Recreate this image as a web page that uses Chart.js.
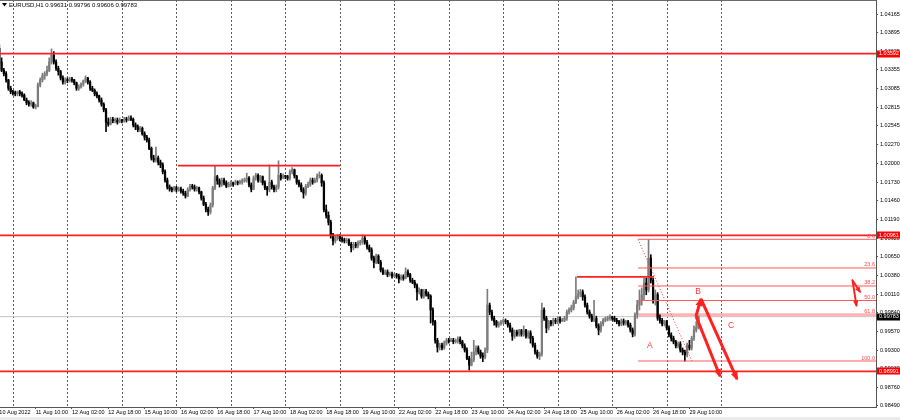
<!DOCTYPE html>
<html><head><meta charset="utf-8">
<script src="https://cdn.jsdelivr.net/npm/chart.js@4.4.0/dist/chart.umd.min.js"></script>
<style>html,body{margin:0;padding:0;background:#fff;overflow:hidden}canvas{display:block}</style>
</head><body>
<canvas id="c" width="900" height="420"></canvas>
<script>
const symbolTitle = 'EURUSD,H1 0.99631 0.99796 0.99606 0.99783';

const opens = [
1.0367,1.0347,1.0335,1.0330,1.0321,1.0309,1.0304,1.0302,1.0301,1.0304,
1.0301,1.0299,1.0292,1.0288,1.0286,1.0288,1.0282,1.0283,1.0314,1.0321,
1.0327,1.0330,1.0335,1.0347,1.0357,1.0347,1.0338,1.0333,1.0324,1.0318,
1.0321,1.0320,1.0322,1.0321,1.0317,1.0309,1.0311,1.0315,1.0320,1.0324,
1.0318,1.0309,1.0306,1.0301,1.0298,1.0292,1.0286,1.0278,1.0260,1.0257,
1.0264,1.0262,1.0263,1.0260,1.0263,1.0262,1.0264,1.0263,1.0266,1.0264,
1.0256,1.0253,1.0249,1.0251,1.0243,1.0238,1.0234,1.0222,1.0208,1.0205,
1.0208,1.0202,1.0198,1.0188,1.0176,1.0166,1.0163,1.0162,1.0165,1.0162,
1.0163,1.0160,1.0157,1.0153,1.0162,1.0167,1.0166,1.0163,1.0165,1.0159,
1.0150,1.0141,1.0134,1.0130,1.0140,1.0165,1.0181,1.0175,1.0170,1.0176,
1.0172,1.0167,1.0170,1.0172,1.0170,1.0173,1.0172,1.0173,1.0175,1.0176,
1.0179,1.0169,1.0163,1.0179,1.0183,1.0176,1.0181,1.0172,1.0165,1.0162,
1.0173,1.0166,1.0162,1.0166,1.0183,1.0179,1.0182,1.0181,1.0179,1.0188,
1.0191,1.0182,1.0173,1.0169,1.0162,1.0157,1.0167,1.0170,1.0176,1.0173,
1.0176,1.0182,1.0183,1.0172,1.0133,1.0125,1.0115,1.0097,1.0088,1.0092,
1.0094,1.0091,1.0089,1.0088,1.0089,1.0083,1.0078,1.0083,1.0081,1.0085,
1.0086,1.0092,1.0086,1.0079,1.0075,1.0063,1.0057,1.0066,1.0057,1.0046,
1.0041,1.0043,1.0039,1.0040,1.0037,1.0039,1.0037,1.0033,1.0036,1.0034,
1.0043,1.0039,1.0031,1.0028,1.0024,1.0014,1.0017,1.0008,1.0015,1.0011,
1.0008,0.9988,0.9971,0.9944,0.9934,0.9937,0.9933,0.9940,0.9944,0.9943,
0.9944,0.9942,0.9943,0.9946,0.9942,0.9936,0.9930,0.9918,0.9908,0.9916,
0.9927,0.9933,0.9927,0.9921,0.9920,0.9930,0.9995,0.9985,0.9976,0.9971,
0.9966,0.9968,0.9971,0.9972,0.9971,0.9966,0.9959,0.9950,0.9956,0.9953,
0.9958,0.9953,0.9959,0.9950,0.9955,0.9947,0.9937,0.9927,0.9921,0.9924,
0.9988,0.9976,0.9962,0.9971,0.9968,0.9973,0.9971,0.9975,0.9972,0.9973,
0.9976,0.9985,0.9988,0.9991,0.9999,1.0007,1.0011,1.0014,1.0007,0.9995,
0.9985,0.9979,0.9973,0.9976,0.9965,0.9959,0.9968,0.9973,0.9975,0.9976,
0.9978,0.9976,0.9973,0.9971,0.9968,0.9972,0.9969,0.9971,0.9966,0.9959,
0.9953,0.9981,0.9995,1.0002,1.0010,1.0027,1.0017,1.0063,1.0031,1.0002,
1.0010,0.9976,0.9973,0.9968,0.9971,0.9962,0.9952,0.9947,0.9942,0.9936,
0.9939,0.9930,0.9927,0.9923,0.9937,0.9933,0.9947,0.9959,0.99631];

const highs = [
1.0372,1.0353,1.0338,1.0333,1.0322,1.0312,1.0306,1.0305,1.0305,1.0306,
1.0304,1.0301,1.0295,1.0291,1.0291,1.0289,1.0286,1.0317,1.0324,1.0331,
1.0333,1.0341,1.0353,1.0366,1.0362,1.0350,1.0341,1.0335,1.0327,1.0324,
1.0324,1.0325,1.0325,1.0322,1.0318,1.0314,1.0317,1.0321,1.0327,1.0325,
1.0320,1.0312,1.0308,1.0304,1.0299,1.0295,1.0288,1.0280,1.0266,1.0267,
1.0267,1.0266,1.0266,1.0266,1.0264,1.0267,1.0267,1.0269,1.0269,1.0266,
1.0259,1.0256,1.0254,1.0253,1.0246,1.0241,1.0237,1.0224,1.0212,1.0224,
1.0211,1.0205,1.0201,1.0191,1.0179,1.0169,1.0166,1.0167,1.0167,1.0166,
1.0166,1.0163,1.0160,1.0165,1.0170,1.0170,1.0169,1.0167,1.0166,1.0160,
1.0153,1.0144,1.0137,1.0143,1.0167,1.0196,1.0183,1.0178,1.0179,1.0179,
1.0175,1.0173,1.0175,1.0173,1.0176,1.0175,1.0176,1.0178,1.0179,1.0186,
1.0181,1.0172,1.0182,1.0186,1.0185,1.0183,1.0182,1.0175,1.0167,1.0198,
1.0176,1.0169,1.0169,1.0204,1.0186,1.0185,1.0183,1.0183,1.0191,1.0194,
1.0192,1.0183,1.0176,1.0172,1.0165,1.0170,1.0173,1.0179,1.0179,1.0179,
1.0185,1.0188,1.0185,1.0175,1.0140,1.0130,1.0118,1.0099,1.0095,1.0097,
1.0097,1.0094,1.0092,1.0092,1.0091,1.0086,1.0086,1.0086,1.0088,1.0089,
1.0097,1.0095,1.0089,1.0082,1.0078,1.0066,1.0069,1.0068,1.0060,1.0049,
1.0046,1.0046,1.0043,1.0043,1.0041,1.0041,1.0040,1.0039,1.0039,1.0049,
1.0046,1.0041,1.0034,1.0031,1.0026,1.0020,1.0018,1.0018,1.0018,1.0014,
1.0010,0.9991,0.9973,0.9947,0.9940,0.9940,0.9943,0.9947,0.9947,0.9947,
0.9947,0.9946,0.9949,0.9949,0.9944,0.9939,0.9933,0.9921,0.9927,0.9944,
0.9936,0.9936,0.9930,0.9926,0.9933,1.0018,0.9998,0.9988,0.9979,0.9973,
0.9971,0.9973,0.9975,0.9975,0.9973,0.9969,0.9962,0.9959,0.9959,0.9960,
0.9960,0.9965,0.9960,0.9958,0.9958,0.9950,0.9940,0.9930,0.9927,0.9998,
0.9991,0.9979,0.9973,0.9973,0.9976,0.9976,0.9978,0.9978,0.9976,0.9979,
0.9988,0.9991,0.9995,1.0002,1.0036,1.0017,1.0018,1.0017,1.0010,0.9998,
0.9988,0.9982,1.0002,0.9979,0.9968,0.9971,0.9976,0.9978,0.9979,0.9981,
0.9979,0.9979,0.9976,0.9973,0.9975,0.9975,0.9973,0.9973,0.9969,0.9962,
0.9984,1.0002,1.0017,1.0020,1.0034,1.0034,1.0090,1.0068,1.0034,1.0017,
1.0013,0.9981,0.9976,0.9973,0.9973,0.9965,0.9955,0.9950,0.9944,0.9942,
0.9942,0.9933,0.9930,0.9940,0.9944,0.9950,0.9965,0.9971,0.99796];

const lows = [
1.0344,1.0333,1.0327,1.0318,1.0306,1.0301,1.0299,1.0298,1.0298,1.0298,
1.0296,1.0291,1.0285,1.0283,1.0283,1.0280,1.0279,1.0282,1.0311,1.0318,
1.0322,1.0327,1.0333,1.0344,1.0344,1.0335,1.0328,1.0321,1.0315,1.0315,
1.0317,1.0318,1.0318,1.0314,1.0306,1.0306,1.0309,1.0312,1.0317,1.0315,
1.0306,1.0304,1.0298,1.0295,1.0289,1.0283,1.0275,1.0246,1.0254,1.0256,
1.0259,1.0259,1.0257,1.0259,1.0259,1.0260,1.0260,1.0262,1.0262,1.0253,
1.0249,1.0246,1.0246,1.0241,1.0234,1.0231,1.0220,1.0205,1.0202,1.0202,
1.0198,1.0194,1.0185,1.0173,1.0163,1.0160,1.0159,1.0160,1.0159,1.0160,
1.0157,1.0154,1.0150,1.0152,1.0160,1.0163,1.0160,1.0160,1.0156,1.0147,
1.0139,1.0130,1.0125,1.0127,1.0137,1.0162,1.0170,1.0166,1.0167,1.0169,
1.0165,1.0166,1.0167,1.0167,1.0169,1.0169,1.0170,1.0170,1.0173,1.0173,
1.0166,1.0159,1.0162,1.0176,1.0173,1.0173,1.0169,1.0162,1.0154,1.0159,
1.0163,1.0159,1.0159,1.0163,1.0176,1.0178,1.0178,1.0176,1.0176,1.0185,
1.0179,1.0170,1.0166,1.0159,1.0150,1.0154,1.0165,1.0167,1.0170,1.0172,
1.0173,1.0179,1.0167,1.0130,1.0121,1.0111,1.0092,1.0082,1.0085,1.0089,
1.0088,1.0086,1.0085,1.0085,1.0081,1.0072,1.0075,1.0078,1.0078,1.0082,
1.0083,1.0083,1.0076,1.0072,1.0060,1.0049,1.0055,1.0055,1.0043,1.0039,
1.0039,1.0036,1.0037,1.0034,1.0036,1.0034,1.0027,1.0031,1.0031,1.0033,
1.0036,1.0028,1.0026,1.0020,1.0002,1.0011,1.0005,1.0005,1.0008,1.0004,
0.9969,0.9966,0.9940,0.9927,0.9930,0.9930,0.9931,0.9937,0.9940,0.9942,
0.9939,0.9940,0.9940,0.9939,0.9933,0.9927,0.9916,0.9901,0.9907,0.9913,
0.9923,0.9924,0.9918,0.9913,0.9917,0.9926,0.9981,0.9973,0.9966,0.9963,
0.9963,0.9966,0.9968,0.9968,0.9963,0.9956,0.9944,0.9947,0.9950,0.9950,
0.9950,0.9950,0.9947,0.9947,0.9940,0.9934,0.9924,0.9918,0.9916,0.9921,
0.9973,0.9955,0.9959,0.9965,0.9965,0.9968,0.9968,0.9969,0.9971,0.9971,
0.9973,0.9982,0.9985,0.9988,0.9997,1.0004,1.0007,1.0002,0.9992,0.9982,
0.9976,0.9971,0.9971,0.9962,0.9952,0.9956,0.9965,0.9971,0.9972,0.9973,
0.9973,0.9971,0.9968,0.9965,0.9965,0.9966,0.9966,0.9963,0.9956,0.9949,
0.9950,0.9976,0.9988,0.9995,1.0002,1.0010,1.0014,1.0027,0.9998,0.9995,
0.9973,0.9969,0.9965,0.9965,0.9959,0.9949,0.9943,0.9939,0.9933,0.9933,
0.9927,0.9923,0.9914,0.9920,0.9930,0.9930,0.9944,0.9956,0.99606];

const closes = [
1.0347,1.0335,1.0330,1.0321,1.0309,1.0304,1.0302,1.0301,1.0304,1.0301,
1.0299,1.0292,1.0288,1.0286,1.0288,1.0282,1.0283,1.0314,1.0321,1.0327,
1.0330,1.0335,1.0347,1.0357,1.0347,1.0338,1.0333,1.0324,1.0318,1.0321,
1.0320,1.0322,1.0321,1.0317,1.0309,1.0311,1.0315,1.0320,1.0324,1.0318,
1.0309,1.0306,1.0301,1.0298,1.0292,1.0286,1.0278,1.0260,1.0257,1.0264,
1.0262,1.0263,1.0260,1.0263,1.0262,1.0264,1.0263,1.0266,1.0264,1.0256,
1.0253,1.0249,1.0251,1.0243,1.0238,1.0234,1.0222,1.0208,1.0205,1.0208,
1.0202,1.0198,1.0188,1.0176,1.0166,1.0163,1.0162,1.0165,1.0162,1.0163,
1.0160,1.0157,1.0153,1.0162,1.0167,1.0166,1.0163,1.0165,1.0159,1.0150,
1.0141,1.0134,1.0130,1.0140,1.0165,1.0181,1.0175,1.0170,1.0176,1.0172,
1.0167,1.0170,1.0172,1.0170,1.0173,1.0172,1.0173,1.0175,1.0176,1.0179,
1.0169,1.0163,1.0179,1.0183,1.0176,1.0181,1.0172,1.0165,1.0162,1.0173,
1.0166,1.0162,1.0166,1.0183,1.0179,1.0182,1.0181,1.0179,1.0188,1.0191,
1.0182,1.0173,1.0169,1.0162,1.0157,1.0167,1.0170,1.0176,1.0173,1.0176,
1.0182,1.0183,1.0172,1.0133,1.0125,1.0115,1.0097,1.0088,1.0092,1.0094,
1.0091,1.0089,1.0088,1.0089,1.0083,1.0078,1.0083,1.0081,1.0085,1.0086,
1.0092,1.0086,1.0079,1.0075,1.0063,1.0057,1.0066,1.0057,1.0046,1.0041,
1.0043,1.0039,1.0040,1.0037,1.0039,1.0037,1.0033,1.0036,1.0034,1.0043,
1.0039,1.0031,1.0028,1.0024,1.0014,1.0017,1.0008,1.0015,1.0011,1.0008,
0.9988,0.9971,0.9944,0.9934,0.9937,0.9933,0.9940,0.9944,0.9943,0.9944,
0.9942,0.9943,0.9946,0.9942,0.9936,0.9930,0.9918,0.9908,0.9916,0.9927,
0.9933,0.9927,0.9921,0.9920,0.9930,0.9995,0.9985,0.9976,0.9971,0.9966,
0.9968,0.9971,0.9972,0.9971,0.9966,0.9959,0.9950,0.9956,0.9953,0.9958,
0.9953,0.9959,0.9950,0.9955,0.9947,0.9937,0.9927,0.9921,0.9924,0.9988,
0.9976,0.9962,0.9971,0.9968,0.9973,0.9971,0.9975,0.9972,0.9973,0.9976,
0.9985,0.9988,0.9991,0.9999,1.0007,1.0011,1.0014,1.0007,0.9995,0.9985,
0.9979,0.9973,0.9976,0.9965,0.9959,0.9968,0.9973,0.9975,0.9976,0.9978,
0.9976,0.9973,0.9971,0.9968,0.9972,0.9969,0.9971,0.9966,0.9959,0.9953,
0.9981,0.9995,1.0002,1.0010,1.0027,1.0017,1.0063,1.0031,1.0002,1.0010,
0.9976,0.9973,0.9968,0.9971,0.9962,0.9952,0.9947,0.9942,0.9936,0.9939,
0.9930,0.9927,0.9923,0.9937,0.9933,0.9947,0.9959,0.9963,0.99783];

// x axis: bar index of each time label (H1 bars), and the labels
const xTickIdx = [0,16,32,48,64,80,96,112,128,144,160,176,192,208,224,240,256,272,288,304];
const xTickLabels = ['10 Aug 2022','11 Aug 10:00','12 Aug 02:00','12 Aug 18:00','15 Aug 10:00','16 Aug 02:00','16 Aug 18:00','17 Aug 10:00','18 Aug 02:00','18 Aug 18:00','19 Aug 10:00','22 Aug 02:00','22 Aug 18:00','23 Aug 10:00','24 Aug 02:00','24 Aug 18:00','25 Aug 10:00','26 Aug 02:00','26 Aug 18:00','29 Aug 10:00'];
const dayStartIdx = [6,30,54,78,102,126,150,174,198,222,246,270,294,318];

// y axis ticks
const yTickValues = [1.04165,1.03895,1.03625,1.03355,1.03085,1.02815,1.02545,1.0227,1.02,1.0173,1.0146,1.0119,1.0092,1.0065,1.0038,1.0011,0.9984,0.9957,0.993,0.9903,0.9876,0.9849];
const yTickLabels = ['1.04165','1.03895','1.03625','1.03355','1.03085','1.02815','1.02545','1.02270','1.02000','1.01730','1.01460','1.01190','1.00920','1.00650','1.00380','1.00110','0.99840','0.99570','0.99300','0.99030','0.98760','0.98490'];

// horizontal levels
const levelPrices = [1.03592, 1.00961, 0.98991];
const levelLabels = ['1.03592', '1.00961', '0.98991'];
const segStartIdx = [78.7, 254.5];
const segEndIdx = [150.1, 288.4];
const segPrices = [1.0197, 1.0036];
const lastPrice = 0.99783;
const lastPriceLabel = '0.99783';

// Fibonacci retracement
const fibLabels = ['0.0', '23.6', '38.2', '50.0', '61.8', '100.0'];
const fibPrices = [1.00903, 1.00488, 1.00227, 1.00017, 0.99812, 0.99141];
const fibStartIdx = 281.4;
const fibTrendIdx = [281.4, 305.1];
const fibTrendPrice = [1.0090, 0.9914];

// wave labels
const waveNames = ['A', 'B', 'C'];
const waveIdx = [286.6, 307.8, 322.3];
const wavePrice = [0.9937, 1.0014, 0.9965];

// arrows (from -> to)
const arrowFromIdx = [306.9, 306.9, 309.1, 375.6, 375.9];
const arrowFromPrice = [0.9979, 0.9979, 1.0004, 1.0032, 1.0030];
const arrowToIdx = [317.5, 309.1, 325.0, 379.2, 377.6];
const arrowToPrice = [0.9892, 1.0004, 0.9888, 1.0014, 0.9994];

const X_MIN = 0.3, X_MAX = 386.2, Y_MIN = 0.98475, Y_MAX = 1.04368;
const FONT = '"Liberation Sans", Arial, sans-serif';
const BULL = '#7c7c7c', BEAR = '#000000', RED = '#ff2020';

const idx = closes.map((_, i) => i);
const upIdx = idx.filter(i => closes[i] >= opens[i]);
const dnIdx = idx.filter(i => closes[i] < opens[i]);

const datasets = [];
datasets.push({type: 'line', data: [{x: X_MIN, y: lastPrice}, {x: X_MAX, y: lastPrice}], borderColor: '#c4c4c4', borderWidth: 1, pointRadius: 0, order: 20});
datasets.push({type: 'bar', data: upIdx.map(i => ({x: i, y: [lows[i], highs[i]]})), backgroundColor: BULL, barThickness: 1, grouped: false, order: 6});
datasets.push({type: 'bar', data: dnIdx.map(i => ({x: i, y: [lows[i], highs[i]]})), backgroundColor: BEAR, barThickness: 1, grouped: false, order: 6});
datasets.push({type: 'bar', data: upIdx.map(i => ({x: i, y: [opens[i], closes[i]]})), backgroundColor: BULL, barThickness: 1.6, minBarLength: 1, grouped: false, order: 5});
datasets.push({type: 'bar', data: dnIdx.map(i => ({x: i, y: [opens[i], closes[i]]})), backgroundColor: BEAR, barThickness: 1.6, minBarLength: 1, grouped: false, order: 5});
levelPrices.forEach(p => datasets.push({type: 'line', data: [{x: X_MIN, y: p}, {x: X_MAX, y: p}], borderColor: RED, borderWidth: 1.8, pointRadius: 0, order: 2}));
segPrices.forEach((p, k) => datasets.push({type: 'line', data: [{x: segStartIdx[k], y: p}, {x: segEndIdx[k], y: p}], borderColor: RED, borderWidth: 1.8, pointRadius: 0, order: 2}));
fibPrices.forEach((p, k) => datasets.push({type: 'line', data: [{x: fibStartIdx, y: p}, {x: X_MAX, y: p}],
  borderColor: fibLabels[k] === '61.8' ? '#ffb4b4' : '#ff5a5a', borderWidth: fibLabels[k] === '61.8' ? 3 : 1, pointRadius: 0, order: fibLabels[k] === '61.8' ? 7 : 3}));
datasets.push({type: 'line', data: [{x: fibTrendIdx[0], y: fibTrendPrice[0]}, {x: fibTrendIdx[1], y: fibTrendPrice[1]}], borderColor: '#ff3030', borderWidth: 1, borderDash: [1, 2], pointRadius: 0, order: 3});
arrowFromIdx.forEach((fx, k) => {
  const small = k >= 3;
  datasets.push({type: 'line', data: [{x: fx, y: arrowFromPrice[k]}, {x: arrowToIdx[k], y: arrowToPrice[k]}], borderColor: RED, borderWidth: small ? 2 : 3,
    borderCapStyle: 'butt', pointRadius: 0, order: 1, arrowHead: true, headLen: small ? 5 : 7, headHalf: small ? 2.6 : 3.6});
});

const overlay = {
  id: 'overlay',
  beforeDatasetsDraw(chart) {
    const {ctx, chartArea: a, scales: {x}} = chart;
    ctx.save();
    ctx.strokeStyle = '#5c5c5c'; ctx.lineWidth = 1; ctx.setLineDash([2, 2]);
    dayStartIdx.forEach(d => {
      const px = Math.round(x.getPixelForValue(d)) + 0.5;
      ctx.beginPath(); ctx.moveTo(px, a.top); ctx.lineTo(px, a.bottom); ctx.stroke();
    });
    ctx.restore();
  },
  afterDatasetsDraw(chart) {
    const {ctx, chartArea: a, scales: {x, y}} = chart;
    ctx.save();
    chart.data.datasets.forEach((ds, i) => {
      if (!ds.arrowHead) return;
      const pts = chart.getDatasetMeta(i).data;
      const p0 = pts[0], p1 = pts[pts.length - 1];
      const ang = Math.atan2(p1.y - p0.y, p1.x - p0.x);
      const L = ds.headLen, W = ds.headHalf, c = Math.cos(ang), s = Math.sin(ang);
      ctx.fillStyle = ds.borderColor;
      ctx.beginPath();
      ctx.moveTo(p1.x + c * 1.5, p1.y + s * 1.5);
      ctx.lineTo(p1.x - L * c + W * s, p1.y - L * s - W * c);
      ctx.lineTo(p1.x - L * c - W * s, p1.y - L * s + W * c);
      ctx.closePath(); ctx.fill();
    });
    // fib level labels
    ctx.font = '5.5px ' + FONT; ctx.fillStyle = '#ff4a4a'; ctx.textAlign = 'right'; ctx.textBaseline = 'alphabetic';
    fibPrices.forEach((p, k) => ctx.fillText(fibLabels[k], a.right - 1, y.getPixelForValue(p) - 1.5));
    // wave letters
    ctx.font = '8.5px ' + FONT; ctx.fillStyle = '#ff3a3a'; ctx.textAlign = 'center'; ctx.textBaseline = 'middle';
    waveNames.forEach((n, k) => ctx.fillText(n, x.getPixelForValue(waveIdx[k]), y.getPixelForValue(wavePrice[k])));
    ctx.restore();
  },
  afterDraw(chart) {
    const {ctx, chartArea: a, scales: {y}} = chart;
    const W = chart.width;
    ctx.save();
    // frame top
    ctx.strokeStyle = '#6a6a6a'; ctx.lineWidth = 1;
    ctx.beginPath(); ctx.moveTo(0, 0.5); ctx.lineTo(a.right, 0.5); ctx.stroke();
    // price boxes
    ctx.font = '5.5px ' + FONT; ctx.textAlign = 'left'; ctx.textBaseline = 'middle';
    const box = (p, label, bg) => {
      const py = y.getPixelForValue(p);
      ctx.fillStyle = bg; ctx.fillRect(a.right + 1, Math.round(py) - 3.5, W - a.right - 1, 7);
      ctx.fillStyle = '#ffffff'; ctx.fillText(label, a.right + 3, py + 0.3);
    };
    levelPrices.forEach((p, k) => box(p, levelLabels[k], '#ff0000'));
    box(lastPrice, lastPriceLabel, '#000000');
    // title
    ctx.fillStyle = '#000';
    ctx.beginPath(); ctx.moveTo(2, 3); ctx.lineTo(7, 3); ctx.lineTo(4.5, 6.5); ctx.closePath(); ctx.fill();
    ctx.font = '6px ' + FONT;
    ctx.textBaseline = 'middle'; ctx.fillText(symbolTitle, 9, 5);
    // bottom strip
    ctx.fillStyle = '#ececec'; ctx.fillRect(0, 417, W, 3);
    ctx.restore();
  }
};

Chart.defaults.font.family = FONT;
Chart.defaults.font.size = 5.5;
Chart.defaults.color = '#000';

new Chart(document.getElementById('c'), {
  type: 'bar',
  data: {datasets},
  options: {
    responsive: false, animation: false, devicePixelRatio: 1,
    layout: {padding: 0},
    plugins: {legend: {display: false}, tooltip: {enabled: false}},
    scales: {
      x: {
        type: 'linear', min: X_MIN, max: X_MAX, offset: false, bounds: 'data', position: 'bottom',
        grid: {display: true, drawOnChartArea: false, drawTicks: true, tickLength: 2, color: '#555', offset: false},
        border: {display: true, color: '#555'},
        ticks: {autoSkip: false, maxRotation: 0, minRotation: 0, align: 'start', padding: 0, color: '#000',
          callback: (v, i) => xTickLabels[i]},
        afterBuildTicks: s => { s.ticks = xTickIdx.map(v => ({value: v})); },
        afterFit: s => { s.height = 13; s.paddingLeft = 0; s.paddingRight = 0; }
      },
      y: {
        type: 'linear', position: 'right', min: Y_MIN, max: Y_MAX, bounds: 'data',
        grid: {display: true, drawOnChartArea: false, drawTicks: true, tickLength: 2, color: '#555'},
        border: {display: true, color: '#555'},
        ticks: {autoSkip: false, padding: 2, color: '#000', callback: (v, i) => yTickLabels[i]},
        afterBuildTicks: s => { s.ticks = yTickValues.map(v => ({value: v})); },
        afterFit: s => { s.width = 24; s.paddingTop = 0; s.paddingBottom = 0; }
      }
    }
  },
  plugins: [overlay]
});
</script>
</body></html>
